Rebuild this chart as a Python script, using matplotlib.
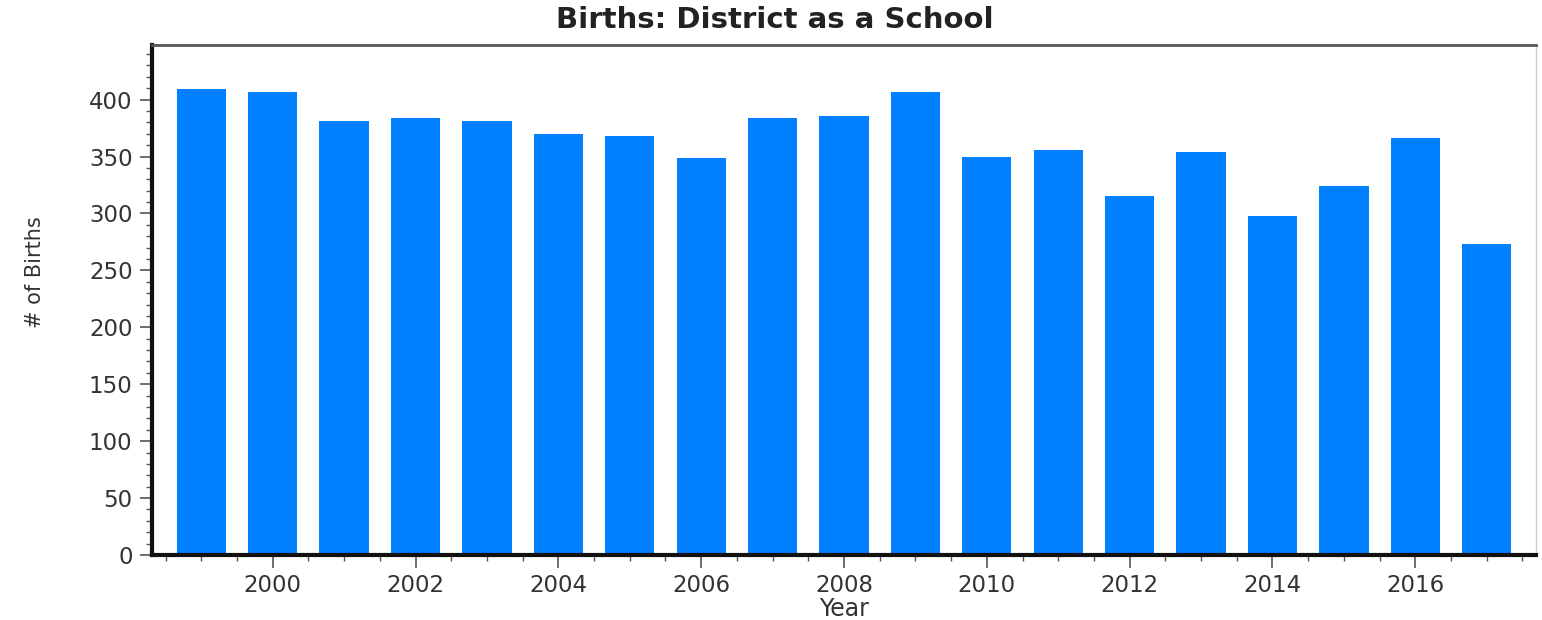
import matplotlib
matplotlib.use("Agg")
import matplotlib.pyplot as plt
from matplotlib.ticker import MultipleLocator

years = [1999, 2000, 2001, 2002, 2003, 2004, 2005, 2006, 2007, 2008,
         2009, 2010, 2011, 2012, 2013, 2014, 2015, 2016, 2017]
births = [409, 407, 381, 384, 381, 370, 368, 349, 384, 386,
          407, 350, 356, 315, 354, 298, 324, 366, 273]
x_ticks = [2000, 2002, 2004, 2006, 2008, 2010, 2012, 2014, 2016]
y_ticks = [0, 50, 100, 150, 200, 250, 300, 350, 400]

plt.rcParams['font.family'] = ['DejaVu Sans']

fig = plt.figure(figsize=(15.42, 6.2), dpi=100)
ax = fig.add_axes([152/1542, 65/620, (1536-152)/1542, (555-45)/620])

ax.bar(years, births, width=0.69, color='#0080FF', edgecolor='none', zorder=2)

ax.set_xlim(1998.31, 2017.69)
ax.set_ylim(0, 448)
ax.set_xticks(x_ticks)
ax.set_yticks(y_ticks)
ax.xaxis.set_minor_locator(MultipleLocator(0.5))
ax.yaxis.set_minor_locator(MultipleLocator(10))

tc = '#333333'
ax.tick_params(axis='both', which='major', direction='out', length=9, width=1.2,
               colors='#555555', labelcolor=tc, labelsize=16.5, pad=5)
ax.tick_params(axis='both', which='minor', direction='out', length=4, width=1.0,
               colors='#555555')

for side in ['left', 'bottom']:
    ax.spines[side].set_linewidth(3)
    ax.spines[side].set_color('#111111')
ax.spines['top'].set_linewidth(2)
ax.spines['top'].set_color('#555555')
ax.spines['right'].set_linewidth(1)
ax.spines['right'].set_color('#cccccc')

ax.set_xlabel('Year', fontsize=17, color=tc, labelpad=0)
ax.set_ylabel('# of Births', fontsize=15, color=tc)
ax.yaxis.set_label_coords(-0.077, 0.555)
fig.suptitle('Births: District as a School', fontsize=21, fontweight='bold',
             color='#222222', x=775/1542, y=0.99, va='top')

fig.savefig('out.png', dpi=100, facecolor='white')
